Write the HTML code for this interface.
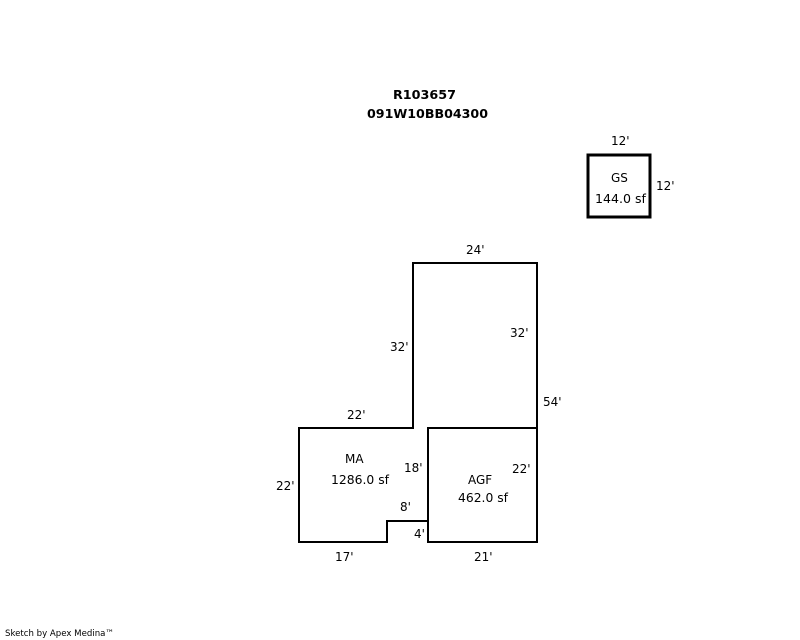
<!DOCTYPE html>
<html>
<head>
<meta charset="utf-8">
<style>
html,body{margin:0;padding:0;background:#fff;width:800px;height:640px;overflow:hidden}
svg{display:block}
text{font-family:"DejaVu Sans",sans-serif;font-size:12px;fill:#000}
.b{font-weight:bold;font-size:12px}
.s{font-size:9px}
</style>
</head>
<body>
<svg width="800" height="640" viewBox="0 0 800 640" xmlns="http://www.w3.org/2000/svg">
<g fill="none" stroke="#000" stroke-width="2" stroke-linecap="square">
<path d="M299 428H413V263H537V542H428V521H387V542H299Z"/>
<path d="M428 521V428H537"/>
</g>
<rect x="588" y="155" width="62" height="62" fill="none" stroke="#000" stroke-width="3"/>
<text class="b" x="393" y="99" textLength="63" lengthAdjust="spacingAndGlyphs">R103657</text>
<text class="b" x="367" y="118" textLength="121" lengthAdjust="spacingAndGlyphs">091W10BB04300</text>
<text x="611" y="145">12'</text>
<text x="656" y="190">12'</text>
<text x="611" y="182">GS</text>
<text x="595" y="203" textLength="51" lengthAdjust="spacingAndGlyphs">144.0 sf</text>
<text x="466" y="254">24'</text>
<text x="510" y="337">32'</text>
<text x="390" y="351">32'</text>
<text x="543" y="406">54'</text>
<text x="347" y="419">22'</text>
<text x="345" y="463">MA</text>
<text x="331" y="484" textLength="58" lengthAdjust="spacingAndGlyphs">1286.0 sf</text>
<text x="404" y="472">18'</text>
<text x="512" y="473">22'</text>
<text x="276" y="490">22'</text>
<text x="468" y="484">AGF</text>
<text x="458" y="502" textLength="50" lengthAdjust="spacingAndGlyphs">462.0 sf</text>
<text x="400" y="511">8'</text>
<text x="414" y="538">4'</text>
<text x="335" y="561">17'</text>
<text x="474" y="561">21'</text>
<text class="s" x="5" y="636" textLength="109" lengthAdjust="spacingAndGlyphs">Sketch by Apex Medina™</text>
</svg>
</body>
</html>
